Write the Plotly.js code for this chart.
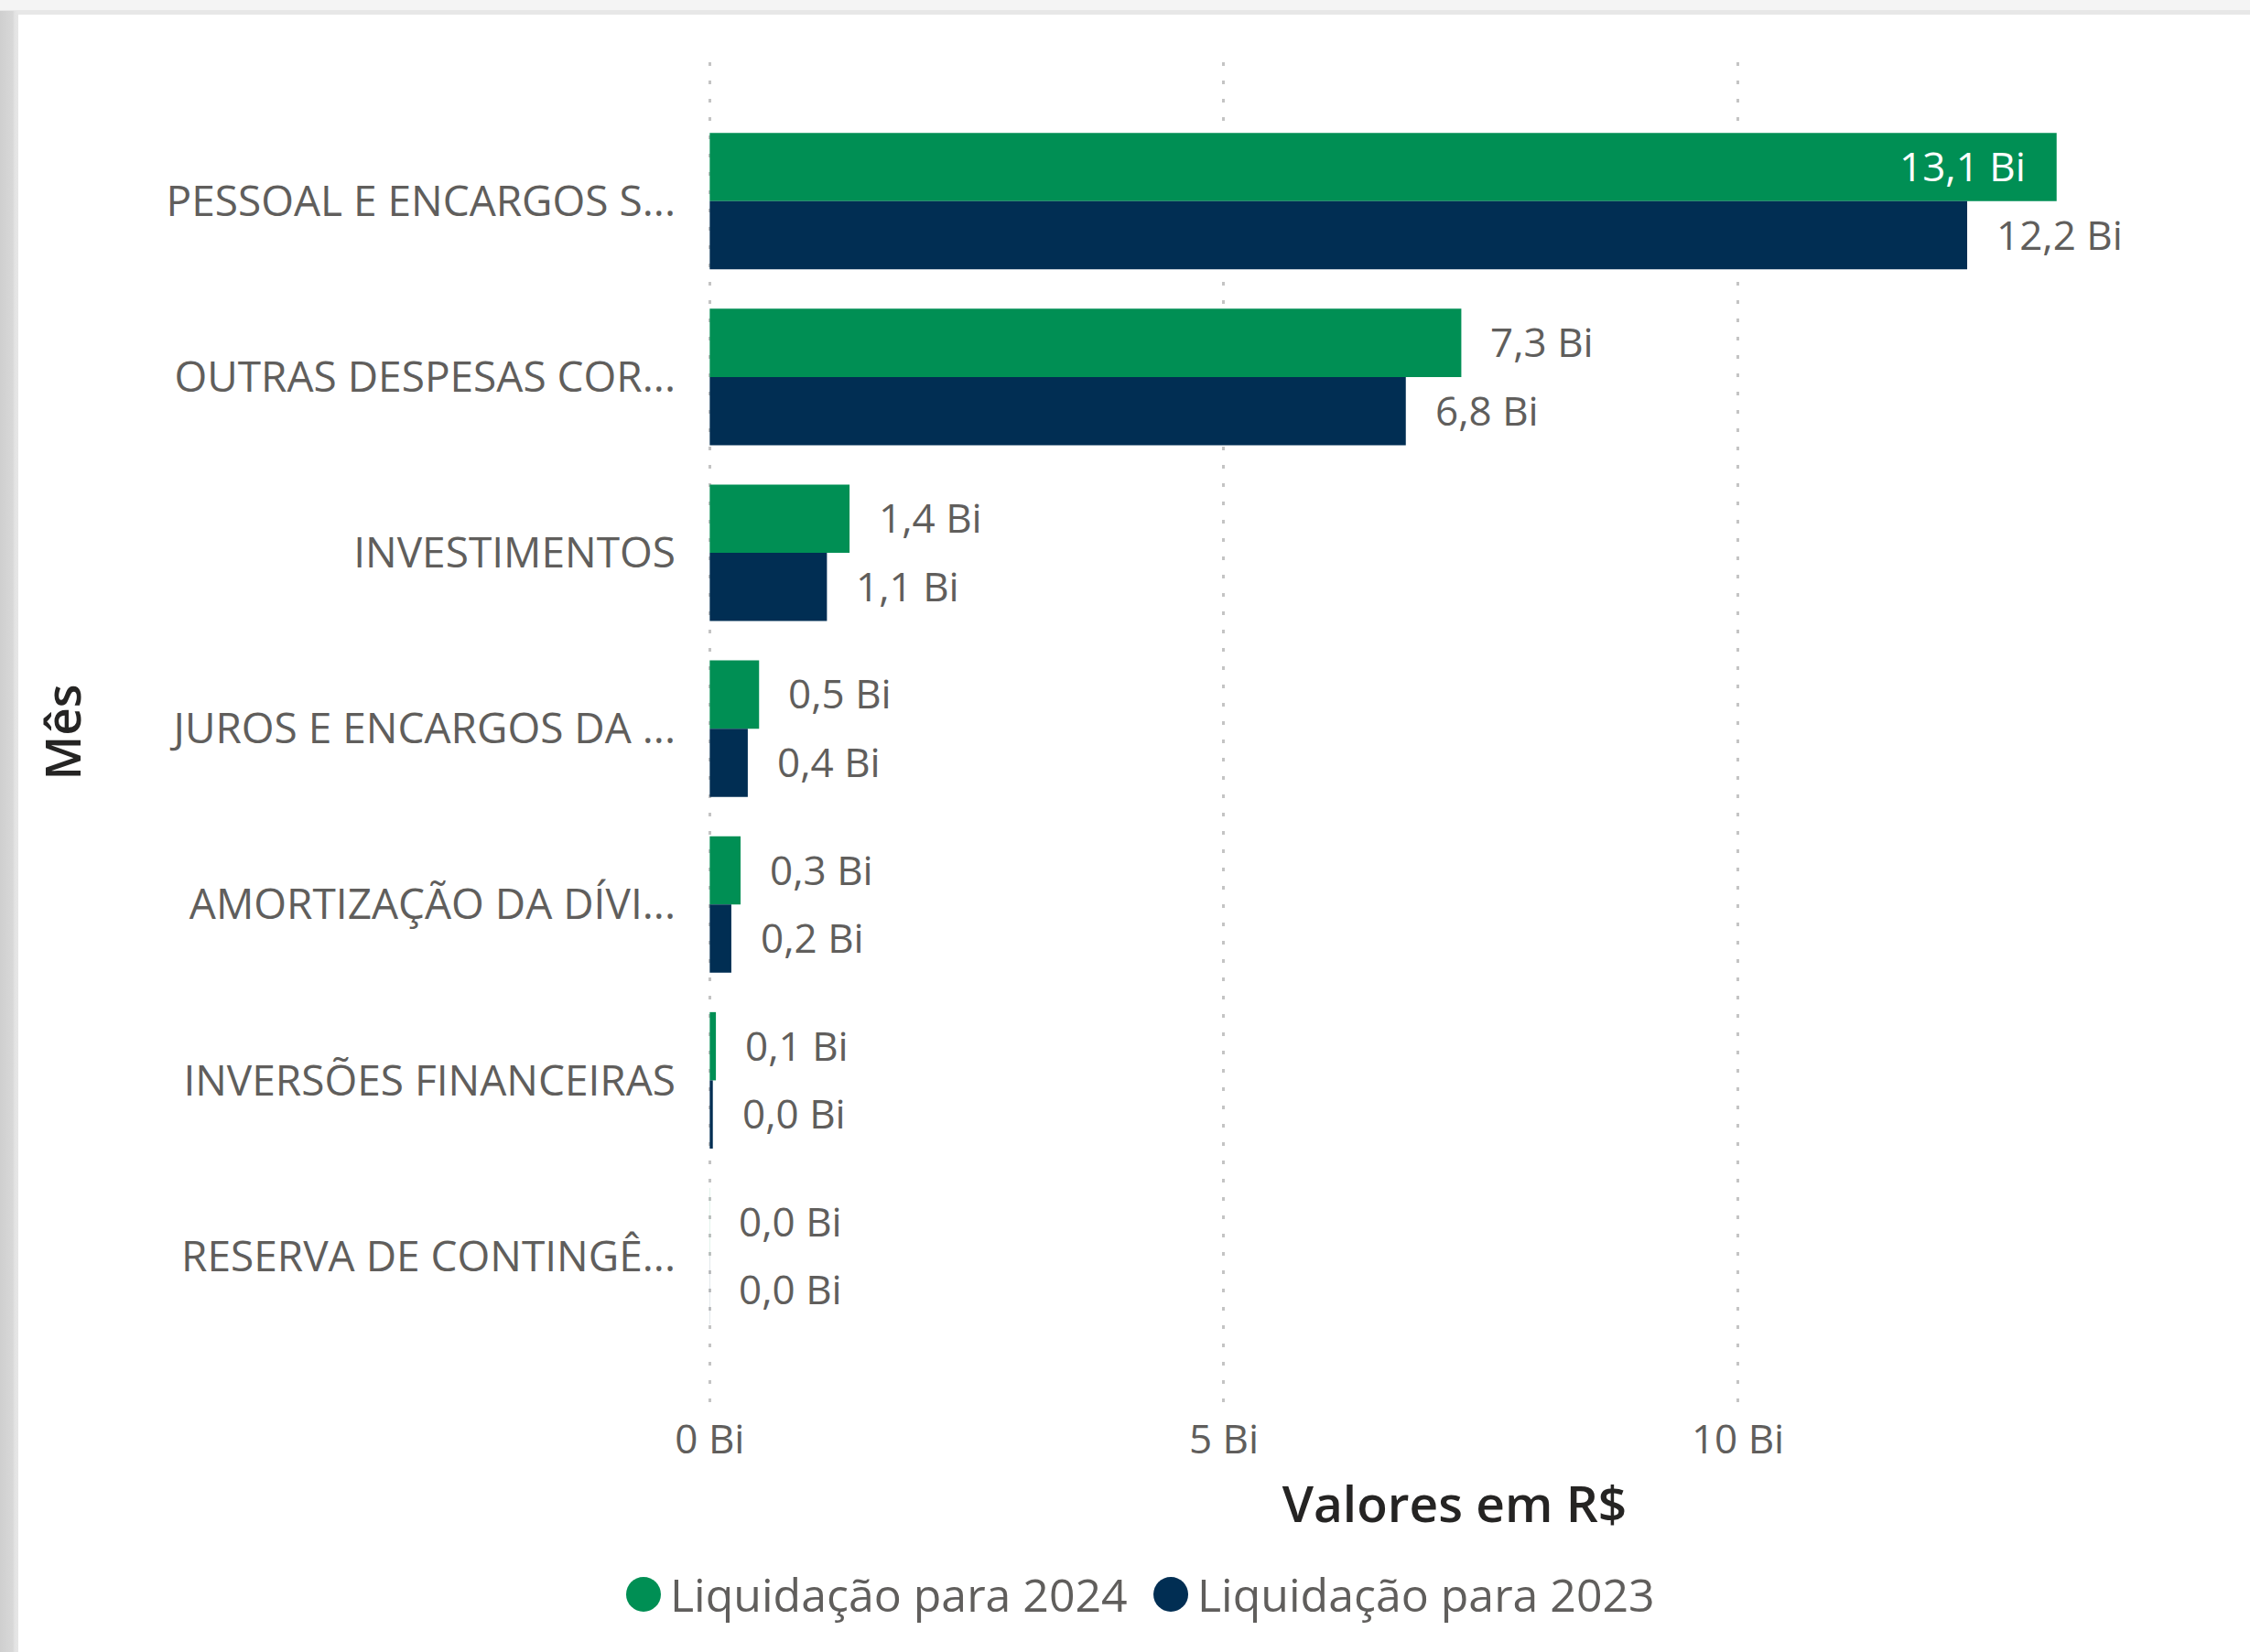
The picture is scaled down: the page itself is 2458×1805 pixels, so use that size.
<!DOCTYPE html>
<html>
<head>
<meta charset="utf-8">
<script src="https://cdn.plot.ly/plotly-3.0.1.min.js"></script>
<style>
  html, body { margin: 0; padding: 0; width: 2458px; height: 1805px; overflow: hidden; background: #f4f4f4; }
  #topline { position: absolute; left: 0; top: 11px; width: 2458px; height: 5px; background: #e7e7e7; }
  #leftshade { position: absolute; left: 0; top: 12px; width: 20px; height: 1793px;
    background: linear-gradient(to right, #cfcfcf 0px, #d8d8d8 14px, #e3e3e3 16px, #e6e6e6 20px); }
  #chart { position: absolute; left: 20px; top: 16px; width: 2438px; height: 1789px; background: #ffffff; }
</style>
</head>
<body>
<div id="topline"></div>
<div id="leftshade"></div>
<div id="chart"></div>
<script>
// ---- data ----
const categories = [
  "PESSOAL E ENCARGOS SOCIAIS",
  "OUTRAS DESPESAS CORRENTES",
  "INVESTIMENTOS",
  "JUROS E ENCARGOS DA DÍVIDA",
  "AMORTIZAÇÃO DA DÍVIDA",
  "INVERSÕES FINANCEIRAS",
  "RESERVA DE CONTINGÊNCIA"
];
const categoryLabels = [
  "PESSOAL E ENCARGOS S...",
  "OUTRAS DESPESAS COR...",
  "INVESTIMENTOS",
  "JUROS E ENCARGOS DA ...",
  "AMORTIZAÇÃO DA DÍVI...",
  "INVERSÕES FINANCEIRAS",
  "RESERVA DE CONTINGÊ..."
];
const seriesNames = ["Liquidação para 2024", "Liquidação para 2023"];
const values2024 = [13.1, 7.31, 1.36, 0.48, 0.30, 0.06, 0.001];
const values2023 = [12.23, 6.77, 1.14, 0.37, 0.21, 0.03, 0.001];
const xTickSuffix = " Bi";
const xTitle = "Valores em R$";
const yTitle = "Mês";

// ---- style ----
const colors = ["#008F54", "#012E53"];
const fontFamily = "'Segoe UI', 'Open Sans', sans-serif";
const labelGray = "#605E5C";
const titleDark = "#252423";
const xRange = [-0.012, 14.5];
const bargap = 0.224;
const yRange = [6.83, -0.79];
const plotTop = 52, plotBottomMargin = 273;
const figH = 1789;
const plotH = figH - plotTop - plotBottomMargin;
const bandPx = plotH / (yRange[0] - yRange[1]);
const barPx = bandPx * (1 - bargap) / 2;

function fmt(v) { return v.toFixed(1).replace('.', ',') + ' Bi'; }

const seriesValues = [values2024, values2023];
const traces = seriesValues.map((vals, i) => ({
  type: 'bar',
  orientation: 'h',
  name: seriesNames[i],
  x: vals,
  y: categories,
  marker: { color: colors[i], line: { width: 0 } },
  showlegend: false,
  hoverinfo: 'x+y+name'
}));

const annotations = [];
seriesValues.forEach((vals, i) => {
  const shift = (i === 0 ? barPx / 2 : -barPx / 2) + 1.5;
  vals.forEach((v, j) => {
    const inside = v > 0.88 * xRange[1];
    annotations.push({
      x: v, y: categories[j], xref: 'x', yref: 'y',
      text: fmt(v), showarrow: false,
      xanchor: inside ? 'right' : 'left',
      xshift: inside ? -32 : 30,
      yshift: shift,
      font: { family: fontFamily, size: 44, color: inside ? '#ffffff' : labelGray }
    });
  });
});

// legend (custom, circle markers)
const legendY = -0.1434;
const legendX = [-0.027, 0.3264];
seriesNames.forEach((n, i) => {
  annotations.push({
    xref: 'paper', yref: 'paper', x: legendX[i], y: legendY,
    xanchor: 'left', yanchor: 'middle', showarrow: false,
    text: n, font: { family: fontFamily, size: 50, color: labelGray }
  });
});
const shapes = seriesNames.map((n, i) => ({
  type: 'circle', xref: 'paper', yref: 'paper',
  xsizemode: 'pixel', ysizemode: 'pixel',
  xanchor: legendX[i], yanchor: legendY,
  x0: -46, x1: -8, y0: -19, y1: 19,
  fillcolor: colors[i], line: { width: 0 }
}));

const layout = {
  width: 2438, height: figH,
  margin: { l: 754, r: 54, t: plotTop, b: plotBottomMargin, autoexpand: false },
  paper_bgcolor: '#ffffff', plot_bgcolor: '#ffffff',
  barmode: 'group', bargap: bargap, bargroupgap: 0,
  font: { family: fontFamily, color: labelGray },
  xaxis: {
    range: xRange, tick0: 0, dtick: 5, ticksuffix: xTickSuffix,
    showgrid: true, gridcolor: '#c4c4c4', gridwidth: 3, griddash: '4px,16px',
    zeroline: false, showline: false, ticks: '',
    tickfont: { family: fontFamily, size: 44, color: labelGray },
    ticklabelstandoff: 11,
    title: { text: xTitle, standoff: 24, font: { family: fontFamily, size: 55, color: titleDark, weight: 600 } },
    automargin: false, fixedrange: true
  },
  yaxis: {
    type: 'category', categoryorder: 'array', categoryarray: categories,
    range: yRange, tickvals: categories, ticktext: categoryLabels,
    showgrid: false, zeroline: false, showline: false, ticks: '',
    tickfont: { family: fontFamily, size: 46, color: labelGray },
    ticklabelstandoff: 35,
    title: { text: yTitle, standoff: 75, font: { family: fontFamily, size: 53, color: titleDark, weight: 600 } },
    automargin: false, fixedrange: true
  },
  annotations: annotations,
  shapes: shapes,
  showlegend: false
};

Plotly.newPlot('chart', traces, layout, { displayModeBar: false, staticPlot: true });
</script>
</body>
</html>
